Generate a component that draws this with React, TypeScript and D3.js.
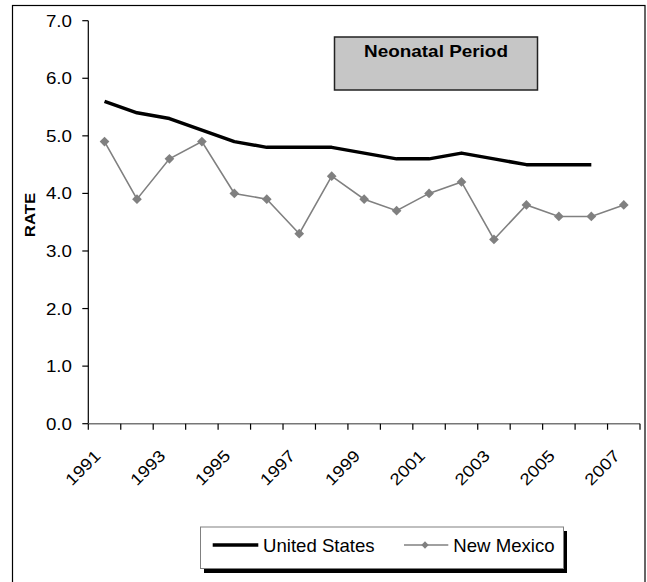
import React from "react";
import * as d3 from "d3";

const years = ["1991","1992","1993","1994","1995","1996","1997","1998","1999","2000","2001","2002","2003","2004","2005","2006","2007"];
const usValues = [5.6, 5.4, 5.3, 5.1, 4.9, 4.8, 4.8, 4.8, 4.7, 4.6, 4.6, 4.7, 4.6, 4.5, 4.5, 4.5];
const nmValues = [4.9, 3.9, 4.6, 4.9, 4.0, 3.9, 3.3, 4.3, 3.9, 3.7, 4.0, 4.2, 3.2, 3.8, 3.6, 3.6, 3.8];
const yTicks = [0, 1, 2, 3, 4, 5, 6, 7];
const xLabelYears = ["1991","1993","1995","1997","1999","2001","2003","2005","2007"];
const title = "Neonatal Period";
const yTitle = "RATE";
const seriesNames = ["United States", "New Mexico"];

const FONT = "Arial, 'Liberation Sans', sans-serif";

export default function App() {
  const W = 647, H = 582;
  const left = 88.3, right = 640, top = 20.7, bottom = 423.7;
  const x = d3.scaleBand<string>().domain(years).range([left, right]).paddingInner(0).paddingOuter(0);
  const y = d3.scaleLinear().domain([0, 7]).range([bottom, top]);
  const cx = (yr: string) => (x(yr) as number) + x.bandwidth() / 2;

  const line = d3.line<number>().x((_, i) => cx(years[i])).y((d) => y(d));
  const diamond = d3.symbol().type(d3.symbolDiamond2 || d3.symbolDiamond).size(60);
  const diamondSmall = d3.symbol().type(d3.symbolDiamond2 || d3.symbolDiamond).size(34);
  const boundaries = years.map((yr) => x(yr) as number).concat([right]);

  return (
    <svg width={W} height={H} style={{ position: "absolute", left: 0, top: 0 }} fontFamily={FONT}>
      <rect x={0} y={0} width={W} height={H} fill="#fff" />
      <rect x={12.5} y={5.5} width={632.5} height={590} fill="none" stroke="#000" strokeWidth={1.2} />

      {/* y axis */}
      <line x1={left} x2={left} y1={top} y2={bottom} stroke="#000" strokeWidth={1.2} />
      {yTicks.map((t) => (
        <g key={t}>
          <line x1={left - 6} x2={left} y1={y(t)} y2={y(t)} stroke="#000" strokeWidth={1.2} />
          <text
            transform={`translate(${72},${y(t) + 6}) scale(1.15,1)`}
            textAnchor="end"
            fontSize={16.3}
            fill="#000"
          >
            {t.toFixed(1)}
          </text>
        </g>
      ))}

      {/* x axis */}
      <line x1={left} x2={right} y1={bottom} y2={bottom} stroke="#777" strokeWidth={1.6} />
      {boundaries.map((b, i) => (
        <line key={i} x1={b} x2={b} y1={bottom} y2={bottom + 6} stroke="#000" strokeWidth={1.2} />
      ))}
      {xLabelYears.map((yr) => (
        <text
          key={yr}
          transform={`translate(${cx(yr) - 3},${457}) rotate(-45) scale(1.15,1)`}
          textAnchor="end"
          fontSize={16.3}
          fill="#000"
        >
          {yr}
        </text>
      ))}

      {/* y title */}
      <text
        transform={`translate(${35},${215}) rotate(-90) scale(1.2,1)`}
        textAnchor="middle"
        fontSize={14}
        fontWeight="bold"
        fill="#000"
      >
        {yTitle}
      </text>

      {/* series */}
      <path d={line(usValues) || ""} fill="none" stroke="#000" strokeWidth={3.5} strokeLinejoin="round" />
      <path d={line(nmValues) || ""} fill="none" stroke="#808080" strokeWidth={1.6} />
      {nmValues.map((v, i) => (
        <path key={i} d={diamond() || ""} transform={`translate(${cx(years[i])},${y(v)})`} fill="#808080" />
      ))}

      {/* title box */}
      <rect x={334.5} y={37} width={203} height={53} fill="#c6c6c6" stroke="#222" strokeWidth={1.5} />
      <text
        transform={`translate(${436},${56.7}) scale(1.16,1)`}
        textAnchor="middle"
        fontSize={16.3}
        fontWeight="bold"
        fill="#000"
      >
        {title}
      </text>

      {/* legend */}
      <rect x={204} y={531} width={363} height={42} fill="#000" />
      <rect x={200.5} y={527} width={363} height={41.5} fill="#fff" stroke="#808080" strokeWidth={1} />
      <line x1={212.7} x2={258.3} y1={545} y2={545} stroke="#000" strokeWidth={3.5} />
      <text x={263} y={551.7} fontSize={18.6} fill="#000">{seriesNames[0]}</text>
      <line x1={404} x2={448.3} y1={545} y2={545} stroke="#808080" strokeWidth={1.6} />
      <path d={diamondSmall() || ""} transform={`translate(425,545)`} fill="#808080" />
      <text x={453.3} y={551.7} fontSize={18.6} fill="#000">{seriesNames[1]}</text>
    </svg>
  );
}
